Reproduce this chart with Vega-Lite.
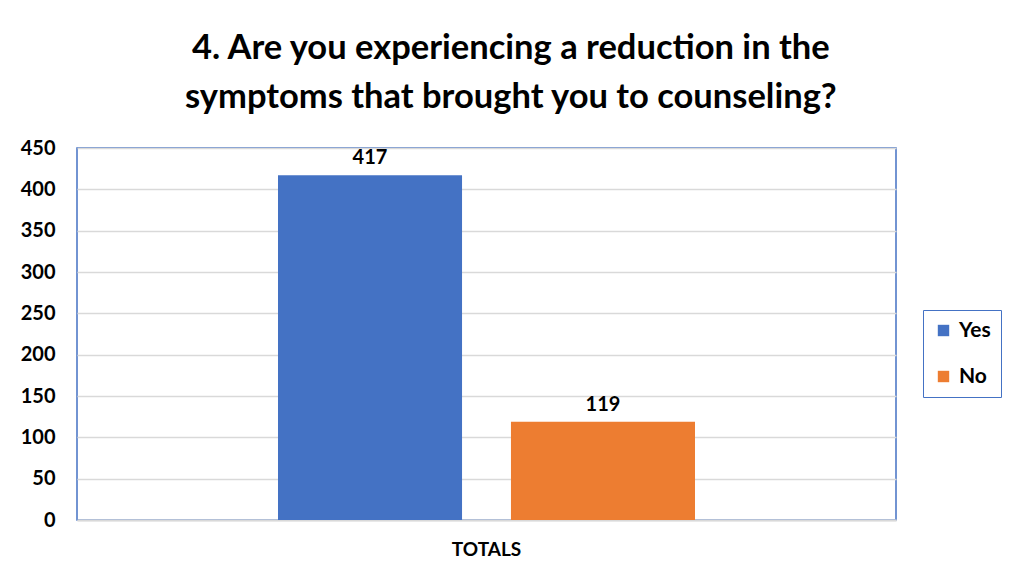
{
  "$schema": "https://vega.github.io/schema/vega-lite/v6.json",
  "autosize": "none",
  "width": 819,
  "height": 372,
  "padding": {"left": 77, "top": 148, "right": 121, "bottom": 60},
  "background": "white",
  "config": {
    "font": "Lato",
    "view": {"stroke": "#4472C4", "strokeWidth": 1.5}
  },
  "title": {
    "text": ["4. Are you experiencing a reduction in the", "symptoms that brought you to counseling?"],
    "font": "Lato",
    "fontSize": 34.5,
    "fontWeight": "bold",
    "color": "#000000",
    "anchor": "middle",
    "frame": "bounds",
    "lineHeight": 49,
    "offset": 23
  },
  "data": {
    "values": [
      {"group": "TOTALS", "answer": "Yes", "count": 417},
      {"group": "TOTALS", "answer": "No", "count": 119}
    ]
  },
  "encoding": {
    "x": {
      "field": "group",
      "type": "nominal",
      "scale": {"paddingInner": 0, "paddingOuter": 0.482},
      "axis": {
        "title": null,
        "labelAngle": 0,
        "labelFontSize": 19,
        "labelFontWeight": "bold",
        "labelColor": "#000000",
        "labelPadding": 20,
        "ticks": false,
        "domainColor": "#D9D9D9",
        "domainWidth": 2
      }
    },
    "xOffset": {
      "field": "answer",
      "type": "nominal",
      "sort": ["Yes", "No"],
      "scale": {"paddingInner": 0.21, "paddingOuter": 0}
    },
    "y": {
      "field": "count",
      "type": "quantitative",
      "scale": {"domain": [0, 450]},
      "axis": {
        "title": null,
        "values": [0, 50, 100, 150, 200, 250, 300, 350, 400, 450],
        "labelFontSize": 20,
        "labelFontWeight": "bold",
        "labelColor": "#000000",
        "labelPadding": 22,
        "ticks": false,
        "domain": false,
        "gridColor": "#D9D9D9",
        "gridWidth": 1.5
      }
    }
  },
  "layer": [
    {
      "mark": {"type": "bar"},
      "encoding": {
        "color": {
          "field": "answer",
          "type": "nominal",
          "sort": ["Yes", "No"],
          "scale": {"domain": ["Yes", "No"], "range": ["#4472C4", "#ED7D31"]},
          "legend": {
            "title": null,
            "orient": "none",
            "legendX": 846,
            "legendY": 162,
            "strokeColor": "#4472C4",
            "padding": 10,
            "symbolType": "square",
            "symbolSize": 130,
            "symbolStrokeWidth": 0,
            "labelFontSize": 21,
            "labelOffset": 5,
            "labelFontWeight": "bold",
            "labelColor": "#000000",
            "rowPadding": 24
          }
        }
      }
    },
    {
      "mark": {"type": "text", "dy": -17, "fontSize": 20, "fontWeight": "bold", "color": "#000000"},
      "encoding": {"text": {"field": "count", "type": "quantitative"}}
    }
  ]
}
